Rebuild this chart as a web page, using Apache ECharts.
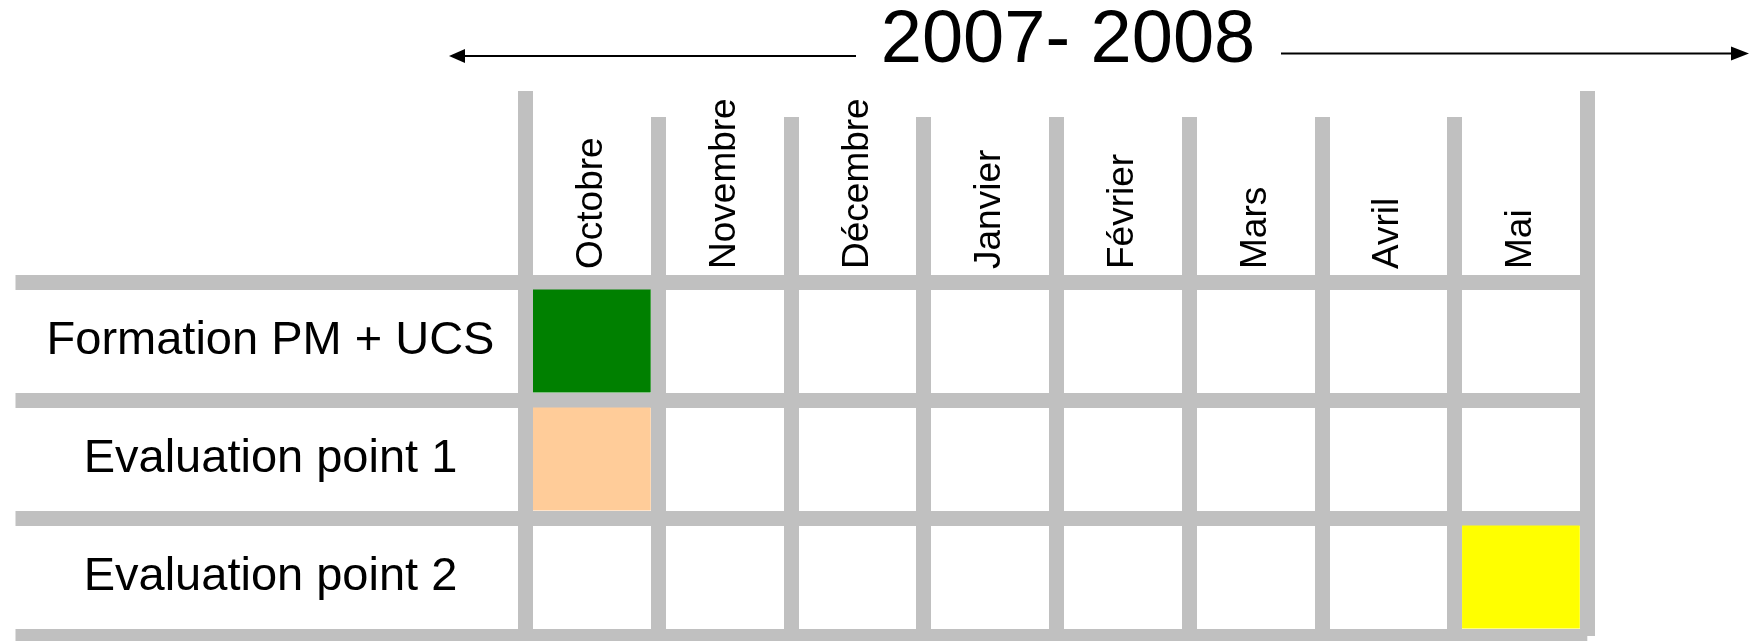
<!DOCTYPE html>
<html>
<head>
<meta charset="utf-8">
<title>2007- 2008</title>
<script src="https://cdn.jsdelivr.net/npm/echarts@6/dist/echarts.min.js"></script>
<style>
  html, body { margin: 0; padding: 0; background: #fff; }
  #chart { width: 1749px; height: 641px; }
</style>
</head>
<body>
<div id="chart"></div>
<script>
  var period = '2007- 2008';
  var months = ['Octobre', 'Novembre', 'Décembre', 'Janvier', 'Février', 'Mars', 'Avril', 'Mai'];
  var tasks = ['Formation PM + UCS', 'Evaluation point 1', 'Evaluation point 2'];
  // mois occupé par chaque tâche
  var taskMonths = ['Octobre', 'Octobre', 'Mai'];

  var cellColors = ['#008000', '#FFCC99', '#FFFF00'];
  var gridColor = '#C0C0C0';
  var lineW = 15;
  var font = 'Liberation Sans, Arial, sans-serif';

  var myChart = echarts.init(document.getElementById('chart'));

  var cells = tasks.map(function (t, i) {
    return [months.indexOf(taskMonths[i]), i];
  });

  var option = {
    animation: false,
    backgroundColor: '#fff',
    title: {
      text: period,
      left: 1068,
      top: 5,
      padding: 0,
      textAlign: 'center',
      textStyle: { fontFamily: font, fontSize: 74, fontWeight: 'normal', color: '#000' }
    },
    grid: {
      left: 525.5,
      right: 161.7,
      top: 282,
      bottom: 5,
      containLabel: false,
      outerBoundsMode: 'none'
    },
    xAxis: [{
      type: 'category',
      position: 'top',
      data: months,
      boundaryGap: true,
      axisLine: { show: true, lineStyle: { color: gridColor, width: lineW } },
      axisTick: { show: true, interval: 0, length: 165, lineStyle: { color: gridColor, width: lineW } },
      axisLabel: {
        interval: 0,
        rotate: -90,
        margin: 13,
        fontFamily: font,
        fontSize: 37,
        color: '#000'
      },
      splitLine: { show: true, interval: 0, lineStyle: { color: gridColor, width: lineW } }
    }, {
      // bords extérieurs plus hauts
      type: 'value',
      position: 'top',
      min: 0,
      max: months.length,
      interval: months.length,
      axisLine: { show: false },
      axisTick: { show: true, length: 191, lineStyle: { color: gridColor, width: lineW } },
      axisLabel: { show: false },
      splitLine: { show: false }
    }],
    yAxis: {
      type: 'category',
      inverse: true,
      data: tasks,
      axisLine: { show: true, lineStyle: { color: gridColor, width: lineW } },
      axisTick: { show: true, interval: 0, length: 510, lineStyle: { color: gridColor, width: lineW } },
      axisLabel: {
        interval: 0,
        margin: 255,
        align: 'center',
        fontFamily: font,
        fontSize: 47,
        color: '#000'
      },
      splitLine: { show: true, interval: 0, lineStyle: { color: gridColor, width: lineW } }
    },
    series: [{
      type: 'custom',
      xAxisIndex: 0,
      yAxisIndex: 0,
      data: cells,
      renderItem: function (params, api) {
        var c = api.coord([api.value(0), api.value(1)]);
        var s = api.size([1, 1]);
        var g = lineW / 2;
        return {
          type: 'rect',
          shape: { x: c[0] - s[0] / 2 + g, y: c[1] - s[1] / 2 + g, width: s[0] - 2 * g, height: s[1] - 2 * g },
          style: { fill: cellColors[params.dataIndex] }
        };
      }
    }],
    graphic: [
      { type: 'line', shape: { x1: 856, y1: 56, x2: 462, y2: 56 }, style: { stroke: '#000', lineWidth: 2 } },
      { type: 'polygon', shape: { points: [[449, 56], [465, 49], [465, 63]] }, style: { fill: '#000' } },
      { type: 'line', shape: { x1: 1281, y1: 53.5, x2: 1734, y2: 53.5 }, style: { stroke: '#000', lineWidth: 2 } },
      { type: 'polygon', shape: { points: [[1749, 53.5], [1731, 46.5], [1731, 60.5]] }, style: { fill: '#000' } }
    ]
  };

  option && myChart.setOption(option);
  window.addEventListener('resize', myChart.resize);
</script>
</body>
</html>
